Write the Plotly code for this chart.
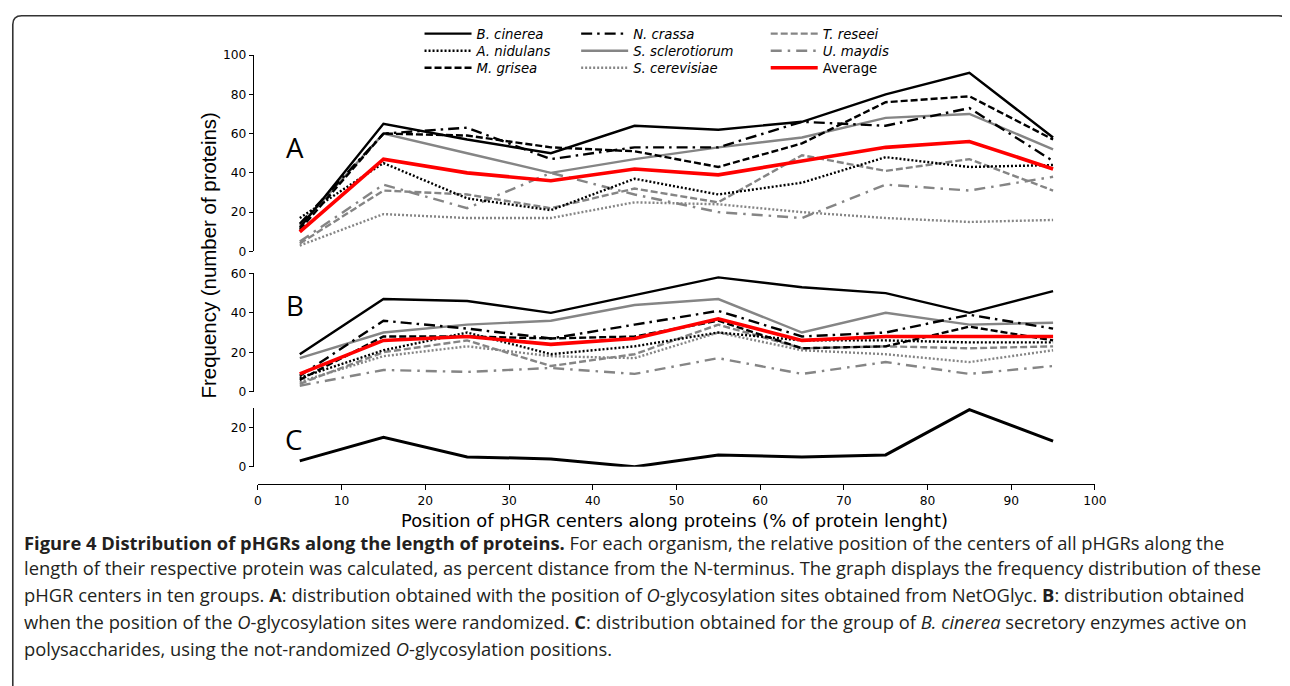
import plotly.graph_objects as go

# Measured mapping between figure pixels and the final picture:
# picture = S * figure + A  (per axis)
SX, AX = 0.99, 10.5
SY, AY = 0.978, 15.0
W, H = 1296, 688

positions = [5, 15, 25, 35, 45, 55, 65, 75, 85, 95]

# Panel A: NetOGlyc O-glycosylation positions
a_b_cinerea = [12, 65, 57, 50, 64, 62, 66, 80, 91, 58]
a_a_nidulans = [17, 45, 27, 21, 37, 29, 35, 48, 43, 44]
a_m_grisea = [11, 60, 59, 53, 51, 43, 55, 76, 79, 57]
a_n_crassa = [14, 60, 63, 47, 53, 53, 66, 64, 73, 46]
a_s_sclerotiorum = [13, 60, 50, 40, 47, 53, 58, 68, 70, 52]
a_s_cerevisiae = [3, 19, 17, 17, 25, 24, 20, 17, 15, 16]
a_t_reseei = [4, 31, 29, 22, 32, 25, 49, 41, 47, 31]
a_u_maydis = [5, 34, 22, 40, 29, 20, 17, 34, 31, 38]
a_average = [10, 47, 40, 36, 42, 39, 46, 53, 56, 42]

# Panel B: randomized O-glycosylation positions
b_b_cinerea = [19, 47, 46, 40, 49, 58, 53, 50, 40, 51]
b_a_nidulans = [7, 21, 30, 19, 23, 30, 26, 26, 25, 25]
b_m_grisea = [6, 28, 28, 27, 28, 36, 22, 23, 33, 26]
b_n_crassa = [8, 36, 32, 27, 34, 41, 28, 30, 39, 32]
b_s_sclerotiorum = [17, 30, 34, 36, 44, 47, 30, 40, 34, 35]
b_s_cerevisiae = [5, 18, 23, 18, 17, 30, 21, 19, 15, 21]
b_t_reseei = [4, 20, 26, 13, 19, 34, 22, 23, 22, 23]
b_u_maydis = [3, 11, 10, 12, 9, 17, 9, 15, 9, 13]
b_average = [9, 26, 28, 24, 27, 37, 26, 28, 28, 28]

# Panel C: B. cinerea secretory enzymes active on polysaccharides
c_b_cinerea = [3, 15, 5, 4, 0, 6, 5, 6, 29, 13]

series_names = ["B. cinerea", "N. crassa", "T. reseei",
                "A. nidulans", "S. sclerotiorum", "U. maydis",
                "M. grisea", "S. cerevisiae", "Average"]

BLACK = "#000000"
GRAY = "#858585"
RED = "#ff0000"

styles = {
    "B. cinerea": dict(color=BLACK, width=2.4, dash="solid"),
    "N. crassa": dict(color=BLACK, width=2.4, dash="11px,5px,2.5px,5px"),
    "T. reseei": dict(color=GRAY, width=2.4, dash="7px,3px"),
    "A. nidulans": dict(color=BLACK, width=2.4, dash="2px,2px"),
    "S. sclerotiorum": dict(color=GRAY, width=2.4, dash="solid"),
    "U. maydis": dict(color=GRAY, width=2.4, dash="11px,6px,2.5px,6px"),
    "M. grisea": dict(color=BLACK, width=2.4, dash="7px,3px"),
    "S. cerevisiae": dict(color=GRAY, width=2.4, dash="2px,2px"),
    "Average": dict(color=RED, width=3.6, dash="solid"),
}

panel_a = {
    "B. cinerea": a_b_cinerea, "N. crassa": a_n_crassa, "T. reseei": a_t_reseei,
    "A. nidulans": a_a_nidulans, "S. sclerotiorum": a_s_sclerotiorum, "U. maydis": a_u_maydis,
    "M. grisea": a_m_grisea, "S. cerevisiae": a_s_cerevisiae, "Average": a_average,
}
panel_b = {
    "B. cinerea": b_b_cinerea, "N. crassa": b_n_crassa, "T. reseei": b_t_reseei,
    "A. nidulans": b_a_nidulans, "S. sclerotiorum": b_s_sclerotiorum, "U. maydis": b_u_maydis,
    "M. grisea": b_m_grisea, "S. cerevisiae": b_s_cerevisiae, "Average": b_average,
}

draw_order = ["S. cerevisiae", "U. maydis", "T. reseei", "A. nidulans", "S. sclerotiorum",
              "M. grisea", "N. crassa", "B. cinerea", "Average"]


def fx(x):
    return (x - AX) / SX


def fy(y):
    return (y - AY) / SY


def px(x):
    return fx(x) / W


def py(y):
    return 1 - fy(y) / H


def fs(size):
    return round(size / SY, 2)


fig = go.Figure()

legend_ids = {}
for i, name in enumerate(series_names):
    legend_ids[name] = "legend" if i == 0 else f"legend{i + 1}"

for name in draw_order:
    st = styles[name]
    fig.add_trace(go.Scatter(
        x=positions, y=panel_a[name], mode="lines", name=name,
        line=dict(color=st["color"], width=st["width"], dash=st["dash"]),
        xaxis="x", yaxis="y", legend=legend_ids[name], cliponaxis=False,
        hoverinfo="skip"))
for name in draw_order:
    st = styles[name]
    fig.add_trace(go.Scatter(
        x=positions, y=panel_b[name], mode="lines", name=name, showlegend=False,
        line=dict(color=st["color"], width=st["width"], dash=st["dash"]),
        xaxis="x", yaxis="y2", cliponaxis=False, hoverinfo="skip"))
fig.add_trace(go.Scatter(
    x=positions, y=c_b_cinerea, mode="lines", name="B. cinerea", showlegend=False,
    line=dict(color=BLACK, width=3, dash="solid"),
    xaxis="x", yaxis="y3", cliponaxis=False, hoverinfo="skip"))

tick_font = dict(family="DejaVu Sans", size=fs(12), color="black")
yax_common = dict(anchor="free", position=px(252), showline=True, linecolor="black",
                  linewidth=1.3, ticks="outside", ticklen=4, tickwidth=1.3,
                  tickcolor="black", showgrid=False, zeroline=False, tickfont=tick_font,
                  fixedrange=True)

layout = dict(
    width=W, height=H,
    margin=dict(l=0, r=0, t=0, b=0),
    paper_bgcolor="white", plot_bgcolor="rgba(0,0,0,0)",
    showlegend=True,
    xaxis=dict(domain=[px(257), px(1096)], range=[0, 100], dtick=10, tick0=0,
               anchor="free", position=py(483), showline=True, linecolor="black",
               linewidth=1.3, ticks="outside", ticklen=5, tickwidth=1.3, tickcolor="black",
               showgrid=False, zeroline=False, tickfont=tick_font, fixedrange=True),
    yaxis=dict(domain=[py(251), py(55)], range=[0, 100], dtick=20, **yax_common),
    yaxis2=dict(domain=[py(391), py(273)], range=[0, 60], dtick=20, **yax_common),
    yaxis3=dict(domain=[py(466), py(407)], range=[0, 30], tickvals=[0, 20], **yax_common),
)

# legends: one entry each, arranged as 3 columns x 3 rows
ITEM_W = 47
col_text_x = [477, 634, 824]
row_y = [34, 51, 68]
for i, name in enumerate(series_names):
    r, c = divmod(i, 3)
    lid = legend_ids[name]
    layout[lid] = dict(
        x=px(col_text_x[c] - 58), y=py(row_y[r]), xanchor="left", yanchor="middle",
        bgcolor="rgba(0,0,0,0)", borderwidth=0, itemwidth=ITEM_W,
        font=dict(family="DejaVu Sans", size=fs(13), color="black",
                  style="italic" if name != "Average" else "normal"),
        itemclick=False, itemdoubleclick=False)

fig.update_layout(**layout)

annotations = [
    dict(text="Frequency (number of proteins)", x=px(207), y=py(255), textangle=-90,
         font=dict(family="Liberation Sans", size=fs(20), color="black")),
    dict(text="Position of pHGR centers along proteins (% of protein lenght)",
         x=px(675), y=py(520), font=dict(family="DejaVu Sans", size=fs(17.5), color="black")),
    dict(text="A", x=px(294), y=py(147), font=dict(family="Open Sans", size=fs(27), color="black")),
    dict(text="B", x=px(294), y=py(305), font=dict(family="Open Sans", size=fs(27), color="black")),
    dict(text="C", x=px(293), y=py(438), font=dict(family="Open Sans", size=fs(27), color="black")),
]
for a in annotations:
    a.update(xref="paper", yref="paper", showarrow=False, xanchor="center", yanchor="middle")

caption_lines = [
    "<b>Figure 4 Distribution of pHGRs along the length of proteins.</b> For each organism, the relative position of the centers of all pHGRs along the",
    "length of their respective protein was calculated, as percent distance from the N-terminus. The graph displays the frequency distribution of these",
    "pHGR centers in ten groups. <b>A</b>: distribution obtained with the position of <i>O</i>-glycosylation sites obtained from NetOGlyc. <b>B</b>: distribution obtained",
    "when the position of the <i>O</i>-glycosylation sites were randomized. <b>C</b>: distribution obtained for the group of <i>B. cinerea</i> secretory enzymes active on",
    "polysaccharides, using the not-randomized <i>O</i>-glycosylation positions.",
]
cap_y = [542, 567, 594, 620, 647]
for line, yy in zip(caption_lines, cap_y):
    annotations.append(dict(text=line, x=px(21), y=py(yy), xref="paper", yref="paper",
                            showarrow=False, xanchor="left", yanchor="middle",
                            font=dict(family="Open Sans", size=18.35, color="#231f20")))

fig.update_layout(annotations=annotations)

# rounded frame around the figure (as close to the picture edge as the page allows)
left_x, top_y, right_x = max(px(9), 0.8 / W), min(py(12), 1 - 0.8 / H), px(1289)
rx, ry = 9 / W, 9 / H
frame = (f"M {left_x},{-0.05} L {left_x},{top_y - ry} "
         f"Q {left_x},{top_y} {left_x + rx},{top_y} "
         f"L {right_x - rx},{top_y} Q {right_x},{top_y} {right_x},{top_y - ry} "
         f"L {right_x},{-0.05}")
fig.add_shape(type="path", path=frame, xref="paper", yref="paper",
              line=dict(color="#333333", width=1.6), layer="below")

fig.write_html("out.html")
